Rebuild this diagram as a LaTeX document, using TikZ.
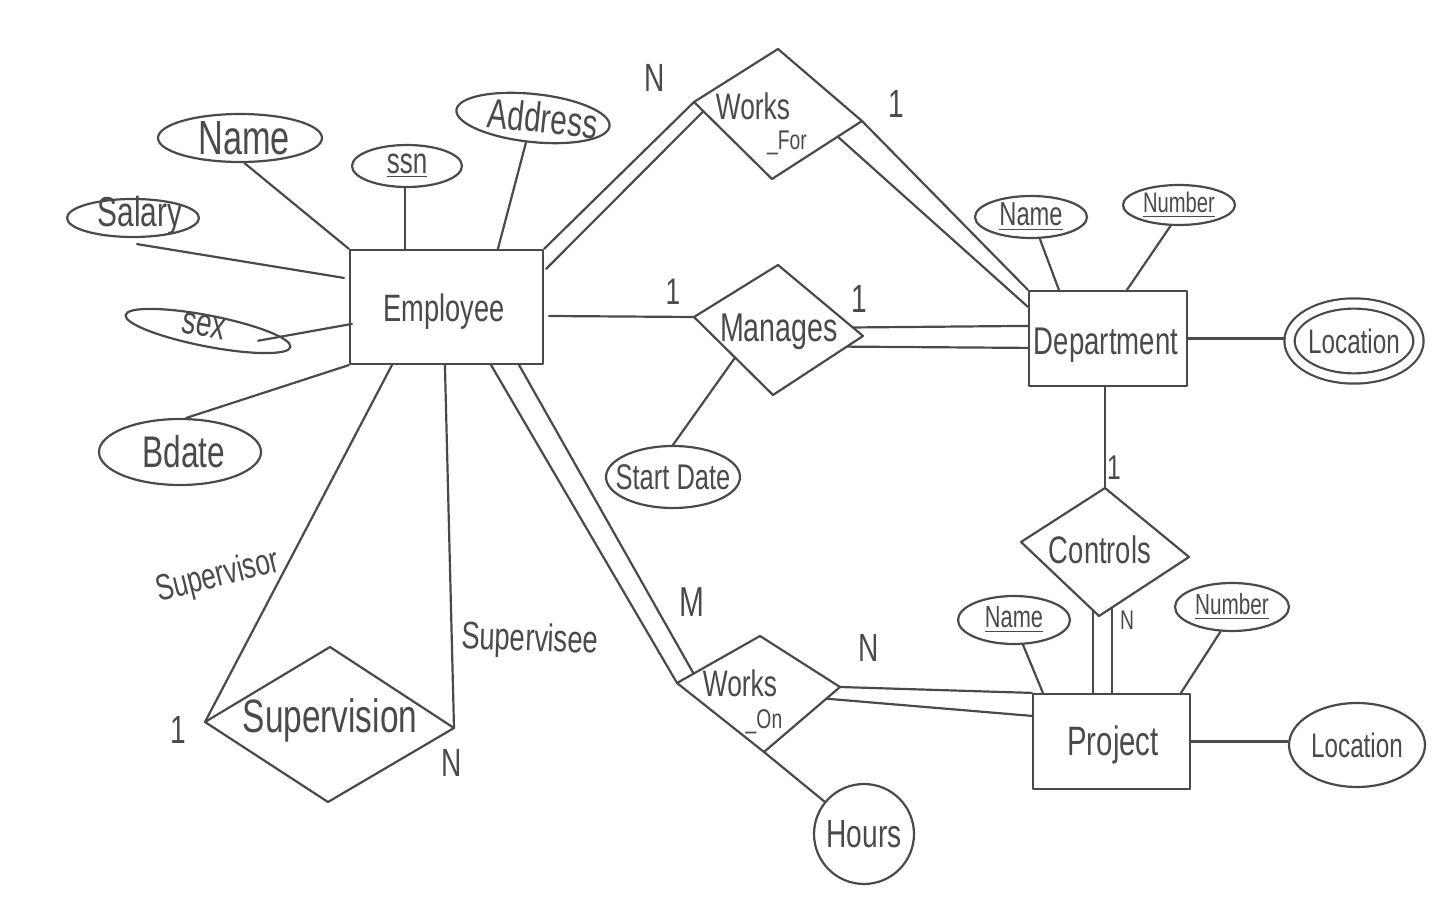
\documentclass[tikz,border=0pt]{standalone}
\usepackage{fontspec}
\setmainfont{Liberation Sans}
\usepackage{graphicx}
\usetikzlibrary{shapes.geometric,calc}
\definecolor{ink}{HTML}{4A4A4A}
\newcommand\hw[2]{{\fontsize{#1}{#1}\selectfont\scalebox{1}[1.4]{#2}}}
\tikzset{
  ln/.style={draw=ink, line width=1.25pt, line cap=round, line join=round},
  ent/.style={ln, rectangle, inner sep=0pt},
  attr/.style={ln, ellipse, inner sep=0pt},
  lbl/.style={text=ink, inner sep=0pt},
}
\begin{document}
\begin{tikzpicture}[x=0.02cm,y=-0.02cm]
\useasboundingbox (0,0) rectangle (1440,908);

% ---------- entities ----------
\node[ent, minimum width=3.86cm, minimum height=2.28cm] (emp) at (446.5,307) {};
\node[lbl] (empT) at (444,312) {\hw{15.5}{Employee}};
\node[ent, minimum width=3.16cm, minimum height=1.9cm] (dept) at (1108,338.5) {};
\node[lbl] (deptT) at (1106,345) {\hw{15.7}{Department}};
\node[ent, minimum width=3.14cm, minimum height=1.9cm] (proj) at (1111.5,741.5) {};
\node[lbl] (projT) at (1113,745) {\hw{16.7}{Project}};

% ---------- attributes ----------
\node[attr, minimum width=3.28cm, minimum height=0.96cm] (eName) at (240,138) {};
\node[lbl] (eNameT) at (244,138) {\hw{19.5}{Name}};
\node[attr, minimum width=2.2cm, minimum height=0.84cm] (eSsn) at (407,166) {};
\node[lbl] (eSsnT) at (eSsn) {\hw{14.8}{\underline{ssn}}};
\node[attr, rotate=-6, minimum width=3.08cm, minimum height=0.96cm] (eAddr) at (533,118) {};
\node[lbl, rotate=-6] (eAddrT) at (543,118) {\hw{17}{Address}};
\node[attr, minimum width=2.64cm, minimum height=0.76cm] (eSalary) at (133,218) {};
\node[lbl] (eSalaryT) at (140,216) {\hw{17}{Salary}};
\node[attr, rotate=-11, minimum width=3.36cm, minimum height=0.62cm] (eSex) at (208,331) {};
\node[lbl, rotate=-11] (eSexT) at (204,326) {\hw{16}{sex}};
\node[attr, minimum width=3.24cm, minimum height=1.32cm] (eBdate) at (180,452) {};
\node[lbl] (eBdateT) at (184,452) {\hw{18}{Bdate}};
\node[attr, minimum width=2.68cm, minimum height=1.24cm] (eStart) at (673,477) {};
\node[lbl] (eStartT) at (eStart) {\hw{14.5}{Start Date}};

\node[attr, minimum width=2.24cm, minimum height=0.84cm] (dName) at (1031,217) {};
\node[lbl] (dNameT) at (dName) {\hw{13.5}{\underline{Name}}};
\node[attr, minimum width=2.24cm, minimum height=0.8cm] (dNum) at (1179,205) {};
\node[lbl] (dNumT) at (dNum) {\hw{11.5}{\underline{Number}}};
\node[attr, double=white, double distance=0.16cm, outer sep=0.1cm,
      minimum width=2.58cm, minimum height=1.5cm] (dLoc) at (1354,341) {};
\node[lbl] (dLocT) at (dLoc) {\hw{13.8}{Location}};

\node[attr, minimum width=2.24cm, minimum height=0.96cm] (pName) at (1014,620) {};
\node[lbl] (pNameT) at (pName) {\hw{12.4}{\underline{Name}}};
\node[attr, minimum width=2.28cm, minimum height=0.96cm] (pNum) at (1232,607) {};
\node[lbl] (pNumT) at (pNum) {\hw{11.8}{\underline{Number}}};
\node[attr, minimum width=2.72cm, minimum height=1.68cm] (pLoc) at (1357,745) {};
\node[lbl] (pLocT) at (pLoc) {\hw{13.8}{Location}};
\node[attr, minimum width=2.0cm, minimum height=2.0cm] (hours) at (864,834) {};
\node[lbl] (hoursT) at (hours) {\hw{16}{Hours}};

% ---------- relationships (diamonds) ----------
\coordinate (wfL) at (694,102); \coordinate (wfT) at (778,49);
\coordinate (wfR) at (862,121); \coordinate (wfB) at (772,179);
\draw[ln] (wfL) -- (wfT) -- (wfR) -- (wfB) -- cycle;
\node[lbl] (wfT1) at (753,106) {\hw{15}{Works}};
\node[lbl] (wfT2) at (787,143) {\hw{11}{\_For}};

\coordinate (manL) at (694,317); \coordinate (manT) at (778,265);
\coordinate (manR) at (863,336); \coordinate (manB) at (773,395);
\draw[ln] (manL) -- (manT) -- (manR) -- (manB) -- cycle;
\node[lbl] (manText) at (779,332) {\hw{16.3}{Manages}};

\coordinate (ctL) at (1021,542); \coordinate (ctT) at (1105,488);
\coordinate (ctR) at (1189,557); \coordinate (ctB) at (1099,616);
\draw[ln] (ctL) -- (ctT) -- (ctR) -- (ctB) -- cycle;
\node[lbl] (ctText) at (1100,550) {\hw{15.6}{Controls}};

\coordinate (woL) at (677,683); \coordinate (woT) at (760,636);
\coordinate (woR) at (840,687); \coordinate (woB) at (764,752);
\draw[ln] (woL) -- (woT) -- (woR) -- (woB) -- cycle;
\node[lbl] (woT1) at (740,683) {\hw{15}{Works}};
\node[lbl] (woT2) at (764,722) {\hw{11}{\_On}};

\coordinate (svL) at (205,722); \coordinate (svT) at (330,647);
\coordinate (svR) at (454,728); \coordinate (svB) at (328,802);
\draw[ln] (svL) -- (svT) -- (svR) -- (svB) -- cycle;
\node[lbl] (svText) at (330,720) {\hw{19}{Supervision}};

% helper points on diamond edges
\coordinate (ctP1) at ($(ctL)!0.92!(ctB)$);
\coordinate (ctP2) at ($(ctB)!0.14!(ctR)$);

% ---------- attribute connectors ----------
\draw[ln] (eName.-80) -- (emp.north west);
\draw[ln] (eSsn.-96) -- (eSsn.-96 |- emp.north);
\draw[ln] (eAddr.-100) -- ($(emp.north west)+(149,0)$);
\draw[ln] ($(eSalary.south)+(4,6)$) -- ($(emp.north west)+(-5,29)$);
\draw[ln] ($(eSex.center)!0.6!(eSex.east)$) -- ($(emp.north west)+(3,75)$);
\draw[ln] (eBdate.80) -- (emp.south west);
\draw[ln] ($(manL)!0.52!(manB)$) -- (eStart.north);
\draw[ln] (dName.-68) -- ($(dept.north west)+(31,0)$);
\draw[ln] (dNum.-112) -- ($(dept.north west)+(99,0)$);
\draw[ln] (dept.east) -- (dept.east -| dLoc.west);
\draw[ln] (pName.-70) -- ($(proj.north west)+(11,0)$);
\draw[ln] (pNum.-115) -- ($(proj.north west)+(149,0)$);
\draw[ln] (proj.east) -- (proj.east -| pLoc.west);
\draw[ln] (woB) -- (hours);

% ---------- relationship connectors ----------
% Works_For
\draw[ln] (emp.north east) -- (wfL);
\draw[ln] ($(emp.north east)+(2,20)$) -- ($(wfL)!0.12!(wfB)$);
\draw[ln] (wfR) -- (dept.north west);
\draw[ln] ($(wfR)!0.27!(wfB)$) -- ($(dept.north west)+(0,17)$);
% Manages
\draw[ln] ($(emp.east)+(5,9)$) -- (manL);
\draw[ln] ($(manT)!0.88!(manR)$) -- ($(dept.north west)+(0,36)$);
\draw[ln] ($(manR)!0.18!(manB)$) -- ($(dept.north west)+(0,58)$);
% Controls
\draw[ln] (ctT |- dept.south) -- (ctT);
\draw[ln] (ctP1) -- (ctP1 |- proj.north);
\draw[ln] (ctP2) -- (ctP2 |- proj.north);
% Works_On
\draw[ln] ($(emp.south east)+(-53,0)$) -- (woL);
\draw[ln] ($(emp.south east)+(-25,0)$) -- ($(woL)!0.2!(woT)$);
\draw[ln] (woR) -- (proj.north west);
\draw[ln] ($(woR)!0.18!(woB)$) -- ($(proj.north west)+(0,23)$);
% Supervision
\draw[ln] ($(emp.south west)+(43,0)$) -- (svL);
\draw[ln] ($(emp.south west)+(96,0)$) -- (svR);

% ---------- role names and cardinalities ----------
\node[lbl, rotate=14] (roleSup) at (218,577) {\hw{14.9}{Supervisor}};
\node[lbl, rotate=-2] (roleSee) at (530,641) {\hw{15.6}{Supervisee}};
\node[lbl] (cWFe) at (655,78) {\hw{16}{N}};
\node[lbl] (cWFd) at (896,104) {\hw{16}{1}};
\node[lbl] (cMAe) at (673,292) {\hw{15}{1}};
\node[lbl] (cMAd) at (859,299) {\hw{16}{1}};
\node[lbl] (cCTd) at (1114,468) {\hw{14}{1}};
\node[lbl] (cCTp) at (1127,620) {\hw{11}{N}};
\node[lbl] (cWOe) at (692,602) {\hw{17}{M}};
\node[lbl] (cWOp) at (869,648) {\hw{16}{N}};
\node[lbl] (cSV1) at (178,730) {\hw{16}{1}};
\node[lbl] (cSVN) at (452,763) {\hw{16}{N}};
\end{tikzpicture}
\end{document}
